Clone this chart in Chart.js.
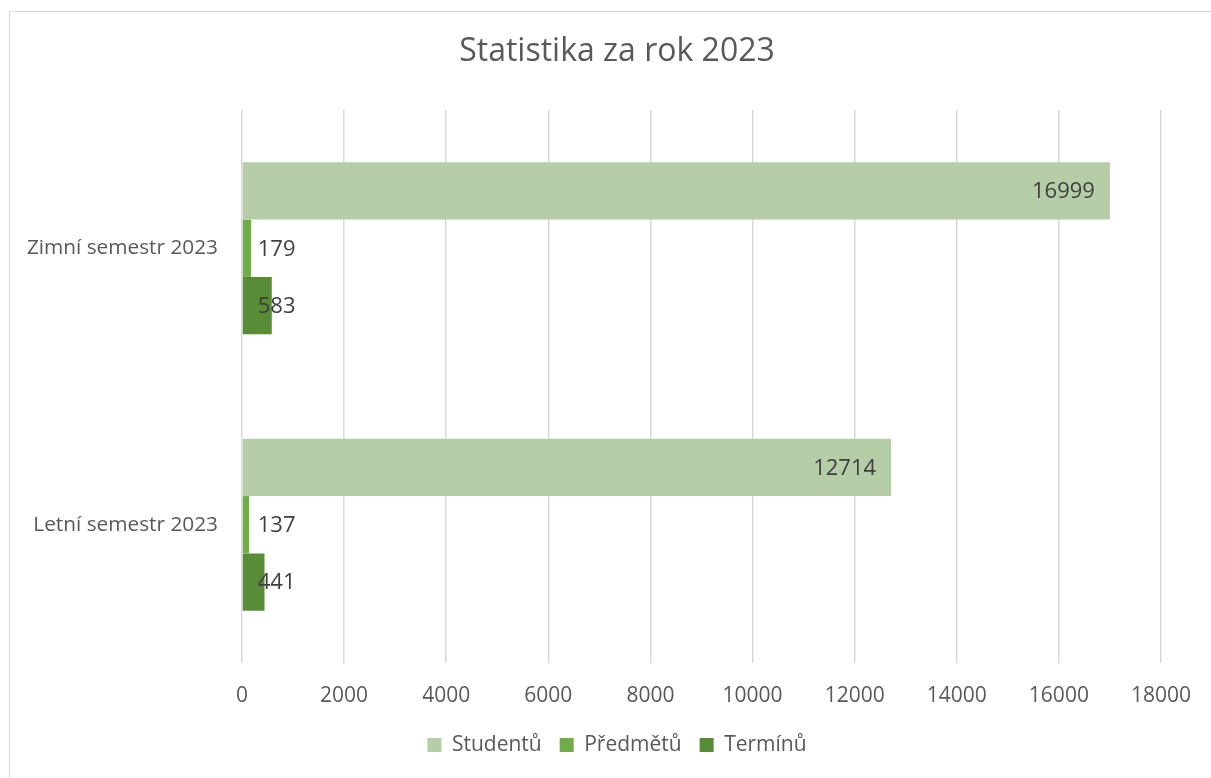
<!DOCTYPE html>
<html>
<head>
<meta charset="utf-8">
<script src="https://cdn.jsdelivr.net/npm/chart.js@4.4.0/dist/chart.umd.min.js"></script>
<style>
  html, body { margin: 0; padding: 0; background: #fff; overflow: hidden; }
  #frame { position: absolute; left: 9px; top: 11px; width: 1220px; height: 790px; border: 1.5px solid #d9d9d9; }
  #wrap { position: absolute; left: 0; top: 0; width: 1211px; height: 778px; }
</style>
</head>
<body>
<div id="frame"></div>
<div id="wrap"><canvas id="statChart"></canvas></div>
<script>
const categories = ['Zimní semestr 2023', 'Letní semestr 2023'];
const studentu = [16999, 12714];
const predmetu = [179, 137];
const terminu = [583, 441];
const seriesNames = ['Studentů', 'Předmětů', 'Termínů'];
const seriesColors = ['#b5cea8', '#70ad47', '#588c37'];
const xTicks = [0, 2000, 4000, 6000, 8000, 10000, 12000, 14000, 16000, 18000];

const fontFamily = '"Open Sans", "Noto Sans", sans-serif';

// popisky hodnot: Studentů uvnitř konce sloupce, ostatní kousek od osy
const valueLabels = {
    id: 'valueLabels',
    afterDatasetsDraw(chart) {
        const ctx = chart.ctx;
        ctx.save();
        ctx.font = '22px ' + fontFamily;
        ctx.fillStyle = '#404040';
        ctx.textBaseline = 'middle';
        chart.data.datasets.forEach((ds, i) => {
            const meta = chart.getDatasetMeta(i);
            meta.data.forEach((bar, j) => {
                const text = String(ds.data[j]);
                if (i === 0) {
                    ctx.textAlign = 'right';
                    ctx.fillText(text, bar.x - 15, bar.y + 1);
                } else {
                    ctx.textAlign = 'left';
                    ctx.fillText(text, bar.base + 15, bar.y + 1);
                }
            });
        });
        ctx.restore();
    }
};

const ctx = document.getElementById('statChart').getContext('2d');
const statChart = new Chart(ctx, {
    type: 'bar',
    data: {
        labels: categories,
        datasets: [
            { label: seriesNames[0], data: studentu, backgroundColor: seriesColors[0] },
            { label: seriesNames[1], data: predmetu, backgroundColor: seriesColors[1] },
            { label: seriesNames[2], data: terminu, backgroundColor: seriesColors[2] }
        ]
    },
    options: {
        indexAxis: 'y',
        responsive: true,
        maintainAspectRatio: false,
        animation: false,
        datasets: {
            bar: { categoryPercentage: 0.622, barPercentage: 1.0 }
        },
        layout: { padding: { left: 71, right: 48, top: 0, bottom: 12.5 } },
        scales: {
            x: {
                min: 0,
                max: 18000,
                afterBuildTicks(scale) {
                    scale.ticks = xTicks.map(v => ({ value: v }));
                },
                afterFit(scale) { scale.height = 53.5; },
                grid: { color: '#d9d9d9', lineWidth: 1.5, drawTicks: false },
                border: { display: false },
                ticks: {
                    padding: 20,
                    color: '#595959',
                    font: { family: fontFamily, size: 21 },
                    maxRotation: 0,
                    callback: v => String(v)
                }
            },
            y: {
                afterFit(scale) {
                    scale.width = 171;
                    // popisky kategorií přesahují vlevo, neořezávat
                    scale._computeLabelArea = () => null;
                },
                grid: { display: false, drawTicks: false },
                border: { display: false },
                ticks: {
                    padding: 24,
                    color: '#595959',
                    font: { family: fontFamily, size: 20.8 }
                }
            }
        },
        plugins: {
            title: {
                display: true,
                text: 'Statistika za rok 2023',
                color: '#595959',
                font: { family: fontFamily, size: 32, weight: 'normal' },
                padding: { top: 33, bottom: 38.6 }
            },
            legend: {
                position: 'bottom',
                labels: {
                    color: '#595959',
                    font: { family: fontFamily, size: 21 },
                    boxWidth: 14,
                    boxHeight: 14,
                    padding: 18
                }
            },
            tooltip: { enabled: false }
        }
    },
    plugins: [valueLabels]
});
</script>
</body>
</html>
